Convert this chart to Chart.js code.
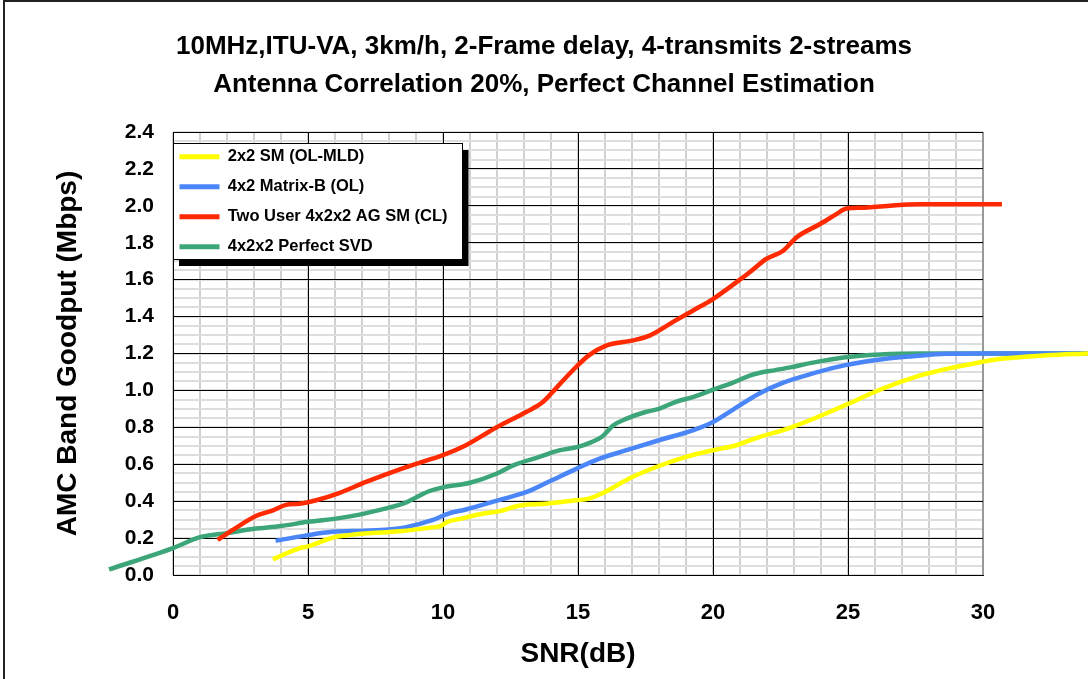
<!DOCTYPE html>
<html>
<head>
<meta charset="utf-8">
<script src="https://cdn.jsdelivr.net/npm/chart.js@4.4.1/dist/chart.umd.min.js"></script>
<style>
html, body { margin: 0; padding: 0; background: #fff; overflow: hidden; }
#wrap { position: relative; width: 1088px; height: 679px; }
#frame { position: absolute; left: 3px; top: 0; width: 1100px; height: 700px; border: 2px solid #222; }
canvas { position: absolute; left: 0; top: 0; }
</style>
</head>
<body>
<div id="wrap"><div id="frame"></div><canvas id="myChart" width="1088" height="679"></canvas></div>
<script>
// axis ticks
var snrTicks = [0, 5, 10, 15, 20, 25, 30];
var goodputTicks = [0, 0.2, 0.4, 0.6, 0.8, 1.0, 1.2, 1.4, 1.6, 1.8, 2.0, 2.2, 2.4];

var seriesNames = ['2x2 SM (OL-MLD)', '4x2 Matrix-B (OL)', 'Two User 4x2x2 AG SM (CL)', '4x2x2 Perfect SVD'];

// 2x2 SM (OL-MLD)
var smSnr = [3.7, 4.67, 5.0, 5.9, 6.5, 7.1, 8.4, 9.6, 9.9, 10.2, 10.5, 11.5, 12.1, 12.8, 13.8, 14.95, 15.4, 16.0, 16.9, 17.9, 19.0, 20.0, 20.86, 21.6, 22.8, 23.7, 24.9, 26.2, 27.65, 28.65, 29.9, 30.6, 32.35, 33.9];
var smGoodput = [0.085, 0.144, 0.155, 0.202, 0.216, 0.225, 0.237, 0.258, 0.265, 0.29, 0.30, 0.333, 0.346, 0.375, 0.386, 0.405, 0.414, 0.45, 0.523, 0.585, 0.64, 0.676, 0.703, 0.742, 0.795, 0.845, 0.92, 1.005, 1.08, 1.117, 1.153, 1.17, 1.19, 1.2];

// 4x2 Matrix-B (OL)
var mbSnr = [3.8, 5.0, 5.9, 7.1, 8.0, 8.6, 9.6, 10.2, 10.85, 12.1, 13.1, 13.9, 14.93, 15.8, 16.8, 18.0, 19.25, 20.0, 20.7, 21.7, 22.6, 23.7, 24.9, 26.2, 27.4, 28.65, 30.0, 31.5, 33.9];
var mbGoodput = [0.185, 0.216, 0.234, 0.24, 0.247, 0.258, 0.297, 0.333, 0.355, 0.407, 0.45, 0.504, 0.575, 0.63, 0.676, 0.73, 0.784, 0.829, 0.892, 0.982, 1.042, 1.092, 1.137, 1.168, 1.185, 1.198, 1.2, 1.2, 1.2];

// Two User 4x2x2 AG SM (CL)
var agSnr = [1.65, 2.2, 3.07, 3.7, 4.18, 4.67, 5.3, 6.15, 7.15, 8.4, 9.6, 10.0, 10.85, 11.96, 13.08, 13.7, 14.2, 14.8, 15.4, 16.04, 17.0, 17.65, 18.6, 19.25, 20.0, 20.86, 21.36, 21.97, 22.6, 23.1, 23.95, 24.57, 24.94, 25.56, 26.18, 27.66, 30.7];
var agGoodput = [0.19, 0.243, 0.32, 0.35, 0.38, 0.386, 0.405, 0.444, 0.504, 0.572, 0.63, 0.649, 0.703, 0.798, 0.883, 0.937, 1.014, 1.108, 1.19, 1.243, 1.27, 1.297, 1.378, 1.432, 1.495, 1.585, 1.64, 1.712, 1.757, 1.83, 1.90, 1.955, 1.986, 1.99, 1.997, 2.009, 2.009];

// 4x2x2 Perfect SVD
var svdSnr = [-2.37, 0, 1.0, 2.0, 3.0, 4.0, 5.0, 6.15, 7.0, 8.0, 8.5, 9.0, 9.5, 10.0, 11.0, 12.0, 12.6, 13.57, 14.3, 15.0, 15.5, 15.9, 16.3, 16.8, 17.5, 18.0, 18.6, 19.25, 20.0, 20.7, 21.36, 21.7, 22.3, 22.9, 23.6, 24.9, 26.2, 27.7, 33.9];
var svdGoodput = [0.03, 0.146, 0.205, 0.227, 0.25, 0.265, 0.288, 0.308, 0.33, 0.365, 0.385, 0.42, 0.455, 0.475, 0.50, 0.55, 0.594, 0.64, 0.675, 0.694, 0.72, 0.75, 0.81, 0.847, 0.883, 0.90, 0.937, 0.964, 1.004, 1.04, 1.08, 1.094, 1.11, 1.126, 1.148, 1.18, 1.195, 1.20, 1.20];

var colors = ['#ffff00', '#4a86f8', '#ff2a00', '#3ca678'];

function pts(xs, ys) {
  return xs.map(function (x, i) { return { x: x, y: ys[i] }; });
}

var FONT = "'Liberation Sans', Arial, sans-serif";
var LEG_PAD = 13.5;

function snrRange(s) { s.min = snrTicks[0]; s.max = snrTicks[snrTicks.length - 1]; }

// legend sits inside the plot, in a white box with a black drop shadow
var legendFrame = {
  id: 'legendFrame',
  beforeDraw: function (chart) {
    var lg = chart.legend, ca = chart.chartArea;
    lg.top = ca.top + 3;
    lg.bottom = lg.top + lg.height;
    lg.left = ca.left - 7;
    lg.right = lg.left + lg.width;
  },
  afterDraw: function (chart) {
    var lg = chart.legend, hb = lg.legendHitBoxes;
    if (!hb || !hb.length) return;
    var ctx = chart.ctx, ca = chart.chartArea;
    var itemH = hb[0].height;
    var maxW = Math.max.apply(null, hb.map(function (h) { return h.width; }));
    var left = ca.left;
    var top = lg.top + 8;
    var right = lg.left + LEG_PAD + maxW + 15;
    var bottom = lg.top + LEG_PAD + hb.length * itemH + (hb.length - 1) * LEG_PAD + 4;
    ctx.save();
    ctx.fillStyle = '#000';
    ctx.fillRect(left + 6, top + 7, right - left, bottom - top);
    ctx.fillStyle = '#fff';
    ctx.fillRect(left, top, right - left, bottom - top);
    ctx.strokeStyle = '#000';
    ctx.lineWidth = 1;
    ctx.strokeRect(Math.round(left) + 0.5, Math.round(top) + 0.5, Math.round(right - left), Math.round(bottom - top));
    ctx.restore();
    lg.draw();
  }
};

var ctx = document.getElementById('myChart');
var myChart = new Chart(ctx, {
  type: 'line',
  data: {
    datasets: [
      { label: seriesNames[0], data: pts(smSnr, smGoodput) },
      { label: seriesNames[1], data: pts(mbSnr, mbGoodput) },
      { label: seriesNames[2], data: pts(agSnr, agGoodput) },
      { label: seriesNames[3], data: pts(svdSnr, svdGoodput) }
    ].map(function (d, i) {
      d.xAxisID = 'x';
      d.yAxisID = 'y';
      d.borderColor = colors[i];
      d.backgroundColor = colors[i];
      d.borderWidth = 4.5;
      d.pointRadius = 0;
      d.fill = false;
      d.clip = false;
      d.cubicInterpolationMode = 'monotone';
      return d;
    })
  },
  options: {
    responsive: false,
    animation: false,
    layout: { padding: 0 },
    plugins: {
      title: {
        display: true,
        text: ['10MHz,ITU-VA, 3km/h, 2-Frame delay, 4-transmits 2-streams', 'Antenna Correlation 20%, Perfect Channel Estimation'],
        color: '#000',
        font: { family: FONT, size: 26, weight: 'bold', lineHeight: '38px' },
        padding: { top: 28, bottom: 28 }
      },
      legend: {
        position: 'chartArea',
        align: 'start',
        labels: {
          color: '#000',
          font: { family: FONT, size: 16.5, weight: 'bold' },
          boxWidth: 40,
          boxHeight: 5,
          padding: LEG_PAD,
          generateLabels: function (chart) {
            return chart.data.datasets.map(function (ds, i) {
              return { text: ds.label, fillStyle: ds.borderColor, strokeStyle: ds.borderColor, lineWidth: 0, hidden: false, datasetIndex: i, fontColor: '#000' };
            });
          }
        }
      },
      tooltip: { enabled: false }
    },
    scales: {
      x: {
        type: 'linear',
        position: 'bottom',
        afterDataLimits: snrRange,
        afterFit: function (s) { s.height = 104; },
        ticks: {
          stepSize: 5, autoSkip: false, maxRotation: 0, padding: 25,
          color: '#000',
          font: { family: FONT, size: 22, weight: 'bold' },
          callback: function (v) { return snrTicks.indexOf(v) >= 0 ? String(v) : ''; }
        },
        grid: {
          drawTicks: false,
          color: function (c) { return c.tick.value === snrTicks[snrTicks.length - 1] ? '#999' : '#000'; },
          lineWidth: function (c) { return c.tick.value === snrTicks[snrTicks.length - 1] ? 2 : 1; }
        },
        border: { color: '#000', width: 1 },
        title: {
          display: true, text: 'SNR(dB)', color: '#000',
          font: { family: FONT, size: 28, weight: 'bold' },
          padding: { top: 0, bottom: 8 }
        }
      },
      xMinor: {
        type: 'linear',
        position: 'top',
        afterDataLimits: snrRange,
        afterFit: function (s) { s.height = 0; },
        ticks: { display: false, stepSize: 1, autoSkip: false, maxTicksLimit: 100 },
        grid: { drawTicks: false, color: '#d0d0d0', lineWidth: 2, z: -2 },
        border: { display: false }
      },
      y: {
        position: 'left',
        min: goodputTicks[0],
        max: goodputTicks[goodputTicks.length - 1],
        afterFit: function (s) { s.width = 173; },
        ticks: {
          stepSize: 0.2, autoSkip: false, maxTicksLimit: 30, padding: 19,
          color: '#000',
          font: { family: FONT, size: 21, weight: 'bold' },
          callback: function (v) { return Number(v).toFixed(1); }
        },
        grid: { drawTicks: false, color: '#000', lineWidth: 1 },
        border: { color: '#000', width: 1 },
        title: {
          display: true, text: 'AMC Band Goodput (Mbps)', color: '#000',
          font: { family: FONT, size: 28, weight: 'bold' },
          padding: { top: 51, bottom: 0 }
        }
      },
      yMinor: {
        position: 'right',
        min: goodputTicks[0],
        max: goodputTicks[goodputTicks.length - 1],
        afterFit: function (s) { s.width = 105; },
        ticks: { display: false, stepSize: 0.05, autoSkip: false, maxTicksLimit: 100 },
        grid: { drawTicks: false, color: '#dedede', lineWidth: 2, z: -2 },
        border: { display: false }
      }
    }
  },
  plugins: [legendFrame]
});
</script>
</body>
</html>
